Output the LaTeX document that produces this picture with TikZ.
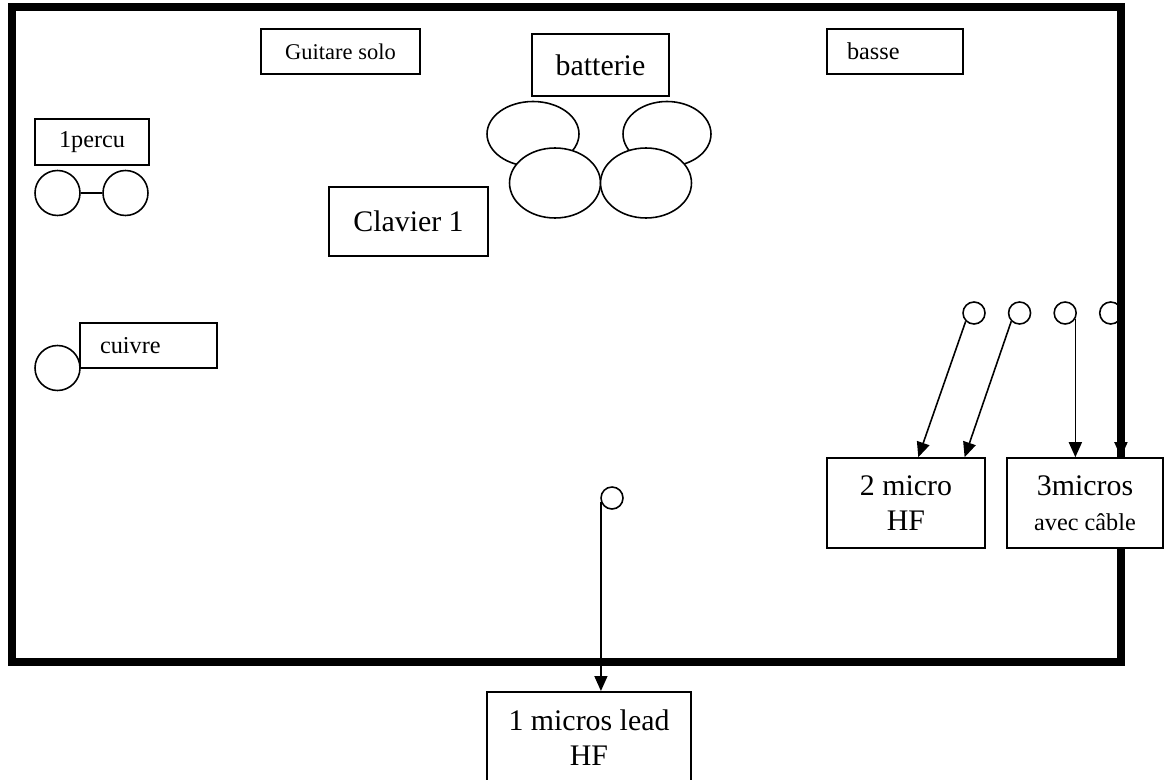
\documentclass[tikz,border=0pt]{standalone}
\usepackage{fontspec}
\setmainfont{Liberation Serif}
\usetikzlibrary{positioning, arrows.meta, shapes.geometric}
\tikzset{
	>={Triangle[length=0.3cm, width=0.26cm]}, % Punta de flecha rellena
	x=0.02cm, y=-0.02cm, % Una unidad = un pixel de la imagen
	grande/.style={font=\fontsize{17}{19.8}\selectfont}, % Texto grande
	chico/.style={font=\fontsize{13.8}{16}\selectfont}, % Texto chico
	caja/.style={draw, fill=white, line width=0.9pt, inner sep=0pt, align=center}, % Cajas de texto
	fut/.style={ellipse, draw, fill=white, line width=0.9pt, inner sep=0pt}, % Tambores
	micro/.style={circle, draw, line width=0.9pt, minimum size=0.44cm, inner sep=0pt}, % Microfonos
	rond/.style={circle, draw, line width=0.9pt, minimum size=0.9cm, inner sep=0pt}, % Percusiones
	fil/.style={line width=0.9pt} % Flechas
}

\begin{document}
\begin{tikzpicture}
			\useasboundingbox (0,0) rectangle (1165,780);
			% escenario
			\draw[line width=0.16cm] (12,7) rectangle (1121,662);

			\node[caja, chico, font=\fontsize{12.8}{15}\selectfont, minimum width=3.18cm, minimum height=0.9cm] (guitare) at (340.5,51.5) {Guitare solo};
			\node[caja, grande, minimum width=2.74cm, minimum height=1.24cm] (batterie) at (600.5,65) {batterie};
			\node[caja, chico, minimum width=2.72cm, minimum height=0.9cm, inner xsep=0.4cm, text width=1.92cm, align=left] (basse) at (895,51.5) {basse};
			\node[caja, chico, minimum width=2.28cm, minimum height=0.92cm] (percu) at (92,142) {1percu};
			\node[caja, grande, minimum width=3.18cm, minimum height=1.38cm] (clavier) at (408.5,221.5) {Clavier 1};
			\node[caja, chico, minimum width=2.74cm, minimum height=0.9cm, inner xsep=0.4cm, text width=1.94cm, align=left] (cuivre) at (148.5,345.5) {cuivre};

			% batterie
			\node[fut, minimum width=1.84cm, minimum height=1.3cm] (fut1) at (533,134) {};
			\node[fut, minimum width=1.76cm, minimum height=1.3cm] (fut2) at (667,134) {};
			\node[fut, minimum width=1.82cm, minimum height=1.4cm] (fut3) at (555,183) {};
			\node[fut, minimum width=1.82cm, minimum height=1.4cm] (fut4) at (646,183) {};

			% percus et cuivre
			\node[rond] (p1) at (57.5,193) {};
			\node[rond] (p2) at (125.5,193) {};
			\node[rond] (c1) at (57.5,368) {};
			\draw[fil] (p1) -- (p2);

			% micros
			\node[micro] (m1) at (974,313) {};
			\node[micro, right=0.44cm of m1] (m2) {};
			\node[micro, right=0.44cm of m2] (m3) {};
			\node[micro, right=0.44cm of m3] (m4) {};
			\node[micro] (m5) at (612,498) {};

			\node[caja, grande, minimum width=3.16cm, minimum height=1.8cm] (hf2) at (906,503) {2 micro\\HF};
			\node[caja, grande, minimum width=3.12cm, minimum height=1.8cm] (cable) at (1085,503) {3micros\\{\fontsize{13.8}{16}\selectfont avec câble}};
			\node[caja, grande, minimum width=4.08cm, minimum height=1.84cm, anchor=north] (lead) at (589,691) {1 micros lead\\HF};

			\draw[fil]	(m1.225) edge[->] (hf2.75)
					(m2.225) edge[->] (hf2.38)
					(m3.-30) edge[->] (m3.-30 |- cable.north)
					(m4.-30) edge[->] (m4.-30 |- cable.north)
					(m5.200) edge[->] (m5.200 |- lead.north)
					;
\end{tikzpicture}
\end{document}
